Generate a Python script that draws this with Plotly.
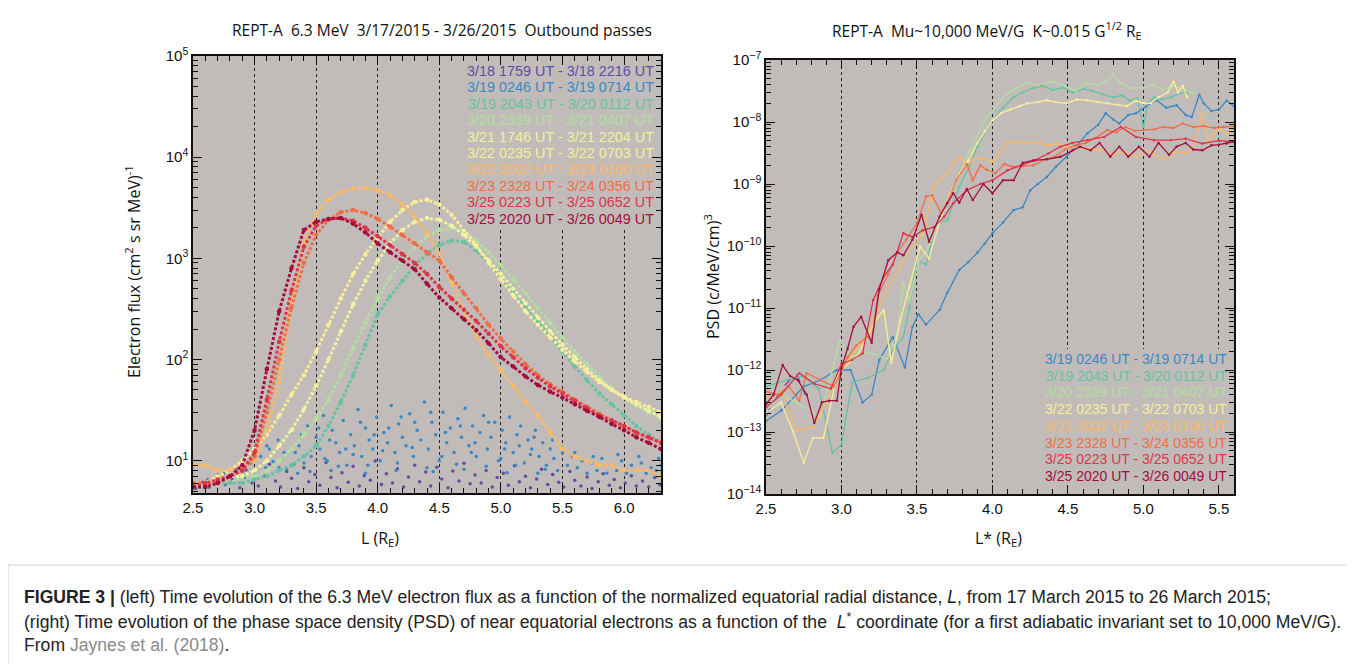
import plotly.graph_objects as go

# ---------------- data: left panel (6.3 MeV flux vs L) ----------------
L_grid = [2.5, 2.6, 2.7, 2.8, 2.9, 3.0, 3.1, 3.2, 3.3, 3.4, 3.5, 3.6, 3.7, 3.8, 3.9,
          4.0, 4.1, 4.2, 4.3, 4.4, 4.5, 4.6, 4.7, 4.8, 4.9, 5.0, 5.1, 5.2, 5.3, 5.4,
          5.5, 5.6, 5.7, 5.8, 5.9, 6.0, 6.1, 6.2, 6.3]

flux_0320_2339 = [5.5, 6, 6, 6, 7, 7, 8, 10, 13, 18, 26, 40, 70, 130, 230, 400, 650, 950, 1300,
                  1650, 1900, 2000, 1850, 1500, 1150, 850, 620, 450, 320, 230, 165, 120, 90, 68,
                  52, 42, 35, 30, 26]
flux_0319_2043 = [5.5, 5.5, 6, 6, 6, 6.5, 7, 8, 9, 11, 14, 22, 38, 70, 140, 280, 420, 600, 850,
                  1100, 1350, 1500, 1450, 1200, 900, 650, 470, 340, 240, 170, 120, 85, 62, 46,
                  36, 28, 22, 18, 15]
flux_0321_1746 = [6, 6, 6, 7, 7, 8, 10, 14, 20, 32, 55, 100, 190, 350, 600, 950, 1400, 1900, 2300,
                  2500, 2400, 2100, 1700, 1300, 950, 700, 500, 360, 260, 190, 140, 105, 80, 62,
                  50, 42, 36, 31, 27]
flux_0322_0235 = [6, 6, 7, 8, 10, 13, 18, 28, 45, 70, 120, 220, 400, 700, 1100, 1600, 2300, 3000,
                  3600, 3800, 3400, 2700, 1900, 1350, 900, 620, 430, 300, 220, 165, 125, 95, 75,
                  60, 50, 43, 38, 34, 30]
flux_0322_2032 = [9, 9, 8, 8, 9, 10, 20, 60, 380, 1400, 2800, 3800, 4500, 4900, 5000, 4700, 4200,
                  3400, 2600, 1800, 1100, 580, 300, 170, 110, 78, 55, 38, 28, 19, 13, 11, 10, 9,
                  9, 8, 8, 8, 7]
flux_0323_2328 = [6, 6, 6, 7, 8, 11, 30, 100, 330, 900, 1700, 2400, 2850, 3000, 2800, 2450, 2050,
                  1700, 1400, 1150, 950, 650, 450, 320, 220, 160, 120, 90, 70, 57, 48, 40, 34,
                  29, 25, 22, 19, 17, 15]
flux_0325_0223 = [5.5, 6, 6.5, 7, 8, 12, 40, 150, 480, 1300, 2100, 2450, 2500, 2350, 2000, 1650,
                  1350, 1100, 900, 700, 520, 400, 310, 240, 180, 135, 105, 82, 66, 54, 46, 39,
                  33, 28, 25, 22, 19, 17, 15]
flux_0325_2020 = [5.5, 5.5, 6, 7, 9, 20, 80, 300, 800, 1900, 2300, 2450, 2500, 2200, 1800, 1400,
                  1150, 950, 780, 560, 410, 320, 250, 195, 145, 105, 85, 68, 56, 48, 42, 36, 31,
                  27, 23, 20, 17, 15, 13]

# background-level passes (scattered points): (L, flux)
pts_0318_1759 = [(2.52, 5.3), (2.58, 6.1), (2.63, 5.5), (2.7, 7.2), (2.76, 5.8), (2.82, 6.5),
                 (2.88, 5.4), (2.93, 8.1), (2.98, 6.0), (3.03, 5.6), (3.08, 7.0), (3.12, 9.2),
                 (3.17, 6.3), (3.21, 5.5), (3.26, 7.8), (3.3, 6.7), (3.35, 5.3), (3.4, 8.5),
                 (3.44, 6.2), (3.49, 7.3), (3.53, 5.7), (3.58, 9.6), (3.62, 6.8), (3.67, 5.4),
                 (3.71, 7.6), (3.76, 6.1), (3.8, 8.8), (3.85, 5.6), (3.89, 7.1), (3.94, 6.4),
                 (3.98, 9.9), (4.03, 5.8), (4.07, 7.4), (4.12, 6.0), (4.16, 8.3), (4.21, 5.5),
                 (4.25, 6.9), (4.3, 9.0), (4.34, 6.2), (4.39, 7.7), (4.43, 5.6), (4.48, 8.6),
                 (4.52, 6.6), (4.57, 5.4), (4.61, 7.9), (4.66, 6.3), (4.7, 9.4), (4.75, 5.9),
                 (4.79, 7.2), (4.84, 6.0), (4.88, 8.0), (4.93, 5.5), (4.97, 6.8), (5.02, 7.5),
                 (5.06, 5.7), (5.11, 8.9), (5.15, 6.2), (5.2, 7.0), (5.24, 5.4), (5.29, 6.6),
                 (5.33, 8.2), (5.38, 5.8), (5.42, 7.3), (5.47, 6.1), (5.51, 5.5), (5.56, 7.8),
                 (5.6, 6.4), (5.65, 5.6), (5.7, 6.9), (5.74, 5.3), (5.79, 6.2), (5.83, 7.4),
                 (5.88, 5.7), (5.92, 6.5), (5.97, 5.4), (6.01, 6.0), (6.06, 7.1), (6.1, 5.6),
                 (6.15, 6.3), (6.2, 5.5), (6.25, 6.8), (6.29, 5.8)]
pts_0319_0246 = [(2.62, 6.5), (2.75, 7.5), (2.85, 8.2), (2.92, 6.8), (2.97, 9.5), (3.01, 7.2),
                 (3.05, 11), (3.09, 8.5), (3.12, 13), (3.15, 9.8), (3.19, 16), (3.22, 10.5),
                 (3.26, 8.2), (3.29, 19), (3.33, 12), (3.36, 14), (3.4, 9.5), (3.43, 22),
                 (3.46, 11), (3.5, 17), (3.53, 13), (3.56, 28), (3.59, 10), (3.63, 20),
                 (3.66, 15), (3.69, 12), (3.72, 25), (3.75, 9), (3.78, 18), (3.81, 14),
                 (3.84, 32), (3.87, 11), (3.9, 21), (3.93, 16), (3.96, 13), (3.99, 27),
                 (4.02, 10), (4.05, 19), (4.08, 15), (4.11, 35), (4.14, 12), (4.17, 23),
                 (4.2, 17), (4.23, 14), (4.26, 29), (4.29, 11), (4.32, 20), (4.35, 16),
                 (4.38, 38), (4.41, 13), (4.44, 24), (4.47, 18), (4.5, 10), (4.53, 30),
                 (4.56, 15), (4.59, 21), (4.62, 12), (4.65, 26), (4.68, 17), (4.71, 33),
                 (4.74, 14), (4.77, 22), (4.8, 11), (4.83, 19), (4.86, 28), (4.89, 13),
                 (4.92, 17), (4.95, 24), (4.98, 10), (5.01, 20), (5.04, 15), (5.07, 27),
                 (5.1, 12), (5.13, 18), (5.16, 22), (5.19, 9.5), (5.22, 16), (5.25, 13),
                 (5.28, 20), (5.31, 11), (5.34, 15), (5.37, 9), (5.4, 13), (5.43, 10.5),
                 (5.46, 8), (5.5, 12), (5.54, 9), (5.58, 11), (5.62, 8.5), (5.66, 10),
                 (5.7, 7.5), (5.74, 9.5), (5.78, 8), (5.82, 10.5), (5.86, 7.5), (5.9, 9),
                 (5.94, 8), (5.98, 10), (6.02, 7.5), (6.06, 9), (6.1, 8), (6.14, 9.5),
                 (6.18, 7.5), (6.22, 8.5), (6.26, 8), (6.3, 9), (3.2, 8.5), (3.32, 9.2),
                 (3.45, 7.8), (3.57, 10.5), (3.68, 8.8), (3.8, 11.5), (3.92, 9), (4.04, 12.5),
                 (4.16, 9.5), (4.28, 13.5), (4.4, 8.5), (4.52, 11), (4.64, 9.2), (4.76, 12),
                 (4.88, 8.8), (5.0, 10.5), (5.12, 9), (5.24, 11.5), (5.36, 8.2),
                 (3.1, 14), (3.24, 12), (3.38, 18), (3.52, 21), (3.61, 16), (3.74, 13),
                 (3.86, 24), (3.97, 18), (4.09, 21), (4.19, 27), (4.3, 24), (4.43, 30),
                 (4.55, 19), (4.67, 22), (4.79, 15), (4.9, 24), (5.03, 13), (5.15, 14),
                 (5.27, 17), (5.42, 16), (3.35, 7.5), (3.62, 8), (3.9, 7.5), (4.15, 8),
                 (4.45, 7.8), (4.7, 8.2), (5.05, 7.6), (5.3, 7.5), (5.6, 12), (5.75, 11),
                 (5.95, 11.5), (6.12, 11), (6.28, 10.5)]

# ---------------- data: right panel (PSD vs L*) ----------------
psd_0318_1759 = [(2.5, 1.8e-13), (2.55, 3e-13), (2.62, 5.5e-13), (2.7, 8.9e-13), (2.76, 4e-13)]
psd_0319_0246 = [(2.5, 1.5e-13), (2.6, 2.2e-13), (2.7, 4e-13), (2.75, 5.4e-13), (2.86, 6.9e-13),
                 (2.97, 1.0e-12), (3.06, 1.0e-12), (3.14, 3.0e-13), (3.2, 4.0e-13), (3.25, 1.45e-12),
                 (3.34, 3.4e-12), (3.42, 1.1e-12), (3.47, 5.0e-12), (3.51, 7.9e-12), (3.56, 5.4e-12),
                 (3.65, 9.3e-12), (3.7, 1.74e-11), (3.78, 4.1e-11), (3.84, 5.5e-11), (3.9, 7.8e-11),
                 (3.95, 1.1e-10), (4.0, 1.6e-10), (4.07, 2.4e-10), (4.14, 3.8e-10), (4.2, 4.2e-10),
                 (4.25, 7.9e-10), (4.3, 1.0e-9), (4.36, 1.3e-9), (4.42, 1.9e-9), (4.49, 2.75e-9),
                 (4.56, 4.2e-9), (4.63, 6.6e-9), (4.7, 9e-9), (4.75, 1.38e-8), (4.8, 1.1e-8),
                 (4.84, 9.5e-9), (4.9, 1.3e-8), (4.95, 1.38e-8), (5.02, 1.8e-8), (5.09, 2.24e-8),
                 (5.15, 1.7e-8), (5.22, 1.86e-8), (5.28, 1.3e-8), (5.32, 1.2e-8), (5.37, 2.75e-8),
                 (5.4, 2.0e-8), (5.45, 1.5e-8), (5.5, 1.6e-8), (5.55, 2.2e-8), (5.6, 1.8e-8)]
psd_0319_2043 = [(2.5, 5.4e-13), (2.64, 6.9e-13), (2.75, 8e-13), (2.85, 5e-13), (2.94, 4.6e-14),
                 (3.0, 6.3e-14), (3.07, 6.3e-13), (3.17, 7.4e-13), (3.28, 1.0e-12), (3.34, 2.1e-12),
                 (3.41, 3.4e-12), (3.45, 1.0e-11), (3.5, 5.9e-11), (3.56, 5.0e-11), (3.63, 2.3e-10),
                 (3.7, 2.6e-10), (3.78, 8.9e-10), (3.85, 2.0e-9), (3.9, 4.0e-9), (4.0, 1.07e-8),
                 (4.07, 1.7e-8), (4.14, 2.5e-8), (4.2, 3.0e-8), (4.27, 3.5e-8), (4.33, 3.8e-8),
                 (4.4, 3.3e-8), (4.47, 3.6e-8), (4.53, 2.95e-8), (4.6, 3.4e-8), (4.66, 3.2e-8),
                 (4.73, 2.8e-8), (4.8, 2.5e-8), (4.86, 2.7e-8), (4.91, 2.2e-8), (4.96, 2.4e-8),
                 (5.0, 8.3e-9), (5.03, 2.0e-8), (5.07, 2.5e-8), (5.12, 2.3e-8), (5.18, 2.5e-8),
                 (5.24, 2.9e-8), (5.29, 3.0e-8)]
psd_0320_2339 = [(2.5, 2.5e-13), (2.6, 4e-13), (2.7, 3e-13), (2.8, 2.2e-13), (2.86, 1.7e-13),
                 (2.93, 8e-13), (2.99, 3.0e-12), (3.06, 1.6e-12), (3.14, 1.9e-12), (3.22, 1.8e-12),
                 (3.3, 1.5e-12), (3.37, 4e-12), (3.41, 2.5e-11), (3.45, 1.26e-11), (3.51, 5.9e-11),
                 (3.56, 7.9e-11), (3.65, 2.6e-10), (3.74, 8.9e-10), (3.85, 3.5e-9), (3.96, 1.2e-8),
                 (4.1, 2.95e-8), (4.23, 4.3e-8), (4.3, 4.0e-8), (4.4, 4.5e-8), (4.48, 3.8e-8),
                 (4.55, 3.2e-8), (4.62, 4.2e-8), (4.7, 4.0e-8), (4.76, 4.6e-8), (4.8, 5.8e-8),
                 (4.85, 4.2e-8), (4.92, 3.5e-8), (5.0, 3.6e-8), (5.06, 4.0e-8), (5.12, 3.3e-8),
                 (5.2, 3.8e-8), (5.27, 3.4e-8), (5.33, 2.9e-8)]
psd_0322_0235 = [(2.5, 2.0e-13), (2.6, 3e-13), (2.68, 1e-13), (2.75, 3.2e-14), (2.81, 8e-14),
                 (2.88, 8e-14), (2.97, 8e-13), (3.03, 1.2e-12), (3.1, 1.6e-12), (3.17, 3.4e-12),
                 (3.22, 6e-12), (3.28, 9.3e-12), (3.33, 1.3e-12), (3.39, 6.3e-12), (3.45, 2.2e-11),
                 (3.52, 9.8e-11), (3.58, 6.3e-11), (3.65, 2.5e-10), (3.72, 7.1e-10), (3.78, 1.4e-9),
                 (3.84, 2.4e-9), (3.9, 4.6e-9), (3.95, 7e-9), (4.0, 1.07e-8), (4.06, 1.4e-8),
                 (4.12, 1.6e-8), (4.18, 1.8e-8), (4.23, 2.0e-8), (4.3, 2.1e-8), (4.36, 2.24e-8),
                 (4.42, 2.1e-8), (4.49, 2.0e-8), (4.56, 2.3e-8), (4.63, 2.24e-8), (4.7, 2.1e-8),
                 (4.76, 2.0e-8), (4.83, 1.9e-8), (4.89, 1.8e-8), (4.95, 2.2e-8), (5.0, 2.0e-8),
                 (5.05, 2.0e-8), (5.1, 2.5e-8), (5.16, 3.0e-8), (5.2, 4.5e-8), (5.23, 3.0e-8),
                 (5.26, 3.8e-8), (5.29, 2.5e-8)]
psd_0322_2032 = [(2.5, 3.5e-13), (2.6, 4.5e-13), (2.7, 1.07e-13), (2.81, 1.2e-13), (2.9, 3e-13),
                 (2.99, 8.9e-13), (3.05, 1.5e-12), (3.1, 2.2e-12), (3.17, 3.5e-12), (3.24, 9.3e-12),
                 (3.31, 2.2e-11), (3.39, 4.6e-11), (3.47, 9.8e-11), (3.54, 1.6e-10), (3.61, 8.9e-10),
                 (3.66, 1.2e-9), (3.7, 1.5e-9), (3.75, 2.3e-9), (3.78, 2.75e-9), (3.83, 2.0e-9),
                 (3.87, 2.45e-9), (3.94, 2.6e-9), (4.0, 2.3e-9), (4.05, 3.2e-9), (4.1, 4.8e-9),
                 (4.15, 4.5e-9), (4.2, 4.8e-9), (4.26, 4.5e-9), (4.31, 4.6e-9), (4.37, 4.2e-9),
                 (4.43, 4.5e-9), (4.5, 4.0e-9), (4.58, 3.8e-9), (4.65, 3.6e-9), (4.73, 3.5e-9),
                 (4.8, 3.0e-9), (4.88, 3.3e-9), (4.95, 2.75e-9), (5.02, 3.5e-9), (5.08, 3.0e-9),
                 (5.13, 2.45e-9), (5.2, 3.3e-9), (5.28, 3.2e-9), (5.33, 3.5e-9), (5.39, 1.38e-8),
                 (5.43, 5e-9), (5.46, 6.3e-9), (5.5, 7.9e-9), (5.55, 6.5e-9), (5.6, 7.9e-9)]
psd_0323_2328 = [(2.5, 4.5e-13), (2.58, 4e-13), (2.65, 5.5e-13), (2.72, 3.2e-13), (2.77, 8.9e-13),
                 (2.86, 6.9e-13), (2.95, 5.4e-13), (3.04, 1.6e-12), (3.1, 2.5e-12), (3.17, 3.4e-12),
                 (3.2, 3.0e-12), (3.24, 1.6e-11), (3.31, 3.5e-11), (3.37, 7.8e-11), (3.43, 1.26e-10),
                 (3.5, 2.3e-10), (3.56, 6.3e-10), (3.6, 6.6e-10), (3.66, 3.4e-10), (3.7, 5.0e-10),
                 (3.76, 1.15e-9), (3.83, 2.1e-9), (3.87, 1.15e-9), (3.92, 2.0e-9), (3.96, 1.7e-9),
                 (4.02, 1.5e-9), (4.08, 2.1e-9), (4.13, 1.9e-9), (4.2, 1.95e-9), (4.27, 2.0e-9),
                 (4.35, 2.5e-9), (4.41, 2.75e-9), (4.48, 3.6e-9), (4.55, 4.2e-9), (4.62, 4.6e-9),
                 (4.68, 5.5e-9), (4.76, 7.4e-9), (4.82, 6.8e-9), (4.88, 8.3e-9), (4.94, 7.2e-9),
                 (5.0, 7.4e-9), (5.07, 7.6e-9), (5.13, 8.3e-9), (5.2, 8.0e-9), (5.26, 9.5e-9),
                 (5.33, 8.3e-9), (5.4, 8.6e-9), (5.47, 8.0e-9), (5.53, 8.3e-9), (5.6, 8.5e-9)]
psd_0325_0223 = [(2.5, 2.5e-13), (2.6, 4e-13), (2.72, 8.9e-13), (2.82, 6e-13), (2.93, 5e-13),
                 (3.0, 1.26e-12), (3.07, 1.45e-12), (3.14, 1.86e-12), (3.21, 1.35e-11), (3.28, 3.2e-11),
                 (3.34, 5e-11), (3.41, 1.6e-10), (3.47, 1.4e-10), (3.54, 1.8e-10), (3.61, 2.0e-10),
                 (3.68, 2.95e-10), (3.74, 4.9e-10), (3.83, 7.9e-10), (3.92, 1.0e-9), (4.0, 1.15e-9),
                 (4.1, 1.66e-9), (4.19, 2.0e-9), (4.28, 2.4e-9), (4.37, 3.1e-9), (4.45, 4.0e-9),
                 (4.53, 4.6e-9), (4.63, 5.1e-9), (4.74, 5.75e-9), (4.85, 8.3e-9), (4.95, 5.75e-9),
                 (5.07, 5.1e-9), (5.18, 5.1e-9), (5.28, 5.4e-9), (5.39, 4.5e-9), (5.5, 5.0e-9),
                 (5.6, 4.8e-9)]
psd_0325_2020 = [(2.5, 2.8e-13), (2.55, 4e-13), (2.61, 1.2e-12), (2.66, 8e-13), (2.71, 6.9e-13),
                 (2.77, 4e-13), (2.82, 1.4e-13), (2.87, 3e-13), (2.92, 3.2e-13), (2.97, 3.2e-13),
                 (3.0, 1.07e-12), (3.04, 2.2e-12), (3.08, 5e-12), (3.13, 7.2e-12), (3.2, 2.75e-12),
                 (3.25, 2.0e-11), (3.31, 5.9e-11), (3.37, 7.9e-11), (3.41, 7.1e-11), (3.47, 1.26e-10),
                 (3.53, 3.2e-10), (3.58, 1.17e-10), (3.65, 3.0e-10), (3.7, 4.9e-10), (3.74, 7.1e-10),
                 (3.78, 5.0e-10), (3.83, 8.3e-10), (3.87, 5.5e-10), (3.94, 1.0e-9), (4.0, 7.1e-10),
                 (4.07, 1.15e-9), (4.14, 1.15e-9), (4.2, 2.2e-9), (4.27, 2.4e-9), (4.36, 2.5e-9),
                 (4.45, 2.75e-9), (4.53, 3.5e-9), (4.58, 4.0e-9), (4.65, 3.5e-9), (4.71, 4.6e-9),
                 (4.78, 2.75e-9), (4.84, 4.0e-9), (4.9, 2.75e-9), (4.97, 4.0e-9), (5.04, 2.75e-9),
                 (5.1, 4.6e-9), (5.17, 2.95e-9), (5.22, 4.0e-9), (5.28, 4.6e-9), (5.33, 3.6e-9),
                 (5.39, 3.5e-9), (5.45, 4.2e-9), (5.5, 4.3e-9), (5.55, 4.5e-9), (5.6, 4.8e-9)]

# ---------------- labels ----------------
pass_labels = ["3/18 1759 UT - 3/18 2216 UT", "3/19 0246 UT - 3/19 0714 UT",
               "3/19 2043 UT - 3/20 0112 UT", "3/20 2339 UT - 3/21 0407 UT",
               "3/21 1746 UT - 3/21 2204 UT", "3/22 0235 UT - 3/22 0703 UT",
               "3/22 2032 UT - 3/23 0100 UT", "3/23 2328 UT - 3/24 0356 UT",
               "3/25 0223 UT - 3/25 0652 UT", "3/25 2020 UT - 3/26 0049 UT"]
pass_colors = ["#5e4fa2", "#3a88c2", "#66c2a5", "#b3de9f", "#eef3a0", "#fbec98",
               "#fdb863", "#f26d43", "#de3448", "#a50d3e"]
psd_labels = pass_labels[1:4] + pass_labels[5:]
psd_colors = pass_colors[1:4] + pass_colors[5:]

x_ticks_left = [2.5, 3.0, 3.5, 4.0, 4.5, 5.0, 5.5, 6.0]
x_ticks_right = [2.5, 3.0, 3.5, 4.0, 4.5, 5.0, 5.5]
y_ticks_left = [1e1, 1e2, 1e3, 1e4, 1e5]
y_ticklabels_left = ["10<sup>1</sup>", "10<sup>2</sup>", "10<sup>3</sup>", "10<sup>4</sup>", "10<sup>5</sup>"]
y_ticks_right = [1e-14, 1e-13, 1e-12, 1e-11, 1e-10, 1e-9, 1e-8, 1e-7]
y_ticklabels_right = ["10<sup>\u221214</sup>", "10<sup>\u221213</sup>", "10<sup>\u221212</sup>",
                      "10<sup>\u221211</sup>", "10<sup>\u221210</sup>", "10<sup>\u22129</sup>",
                      "10<sup>\u22128</sup>", "10<sup>\u22127</sup>"]

# ---------------- figure ----------------
# The page body keeps its default 8px margin, so the figure is 8px smaller than the
# window and every reference pixel position is shifted by that offset.
OFF = 8
W, H = 1354 - OFF, 664 - OFF
PLOT_BG = "#c1bcba"
TICK_FONT = dict(family="Liberation Sans, Arial, sans-serif", size=15, color="#111")
TITLE_FONT = "Open Sans, Noto Sans, sans-serif"
LEG_FONT = "Liberation Sans, Arial, sans-serif"

X_RANGE_L, Y_RANGE_L = [2.5, 6.3], [0.68, 5]
X_RANGE_R, Y_RANGE_R = [2.5, 5.6], [-14, -7]


def px_x(v):
    return (v - OFF) / W


def px_y(v):
    return 1 - (v - OFF) / H


fig = go.Figure()

flux_series = [flux_0320_2339, flux_0319_2043, flux_0321_1746, flux_0322_0235,
               flux_0322_2032, flux_0323_2328, flux_0325_0223, flux_0325_2020]
flux_color_idx = [3, 2, 4, 5, 6, 7, 8, 9]

for pts, ci in [(pts_0318_1759, 0), (pts_0319_0246, 1)]:
    fig.add_trace(go.Scatter(x=[p[0] for p in pts], y=[p[1] for p in pts], mode="markers",
                             marker=dict(size=3.5, color=pass_colors[ci]),
                             xaxis="x", yaxis="y", showlegend=False, hoverinfo="skip"))
for ys, ci in zip(flux_series, flux_color_idx):
    fig.add_trace(go.Scatter(x=L_grid, y=ys, mode="lines+markers",
                             line=dict(color=pass_colors[ci], width=3, dash="3px,2px"),
                             marker=dict(size=4.5, color=pass_colors[ci]),
                             xaxis="x", yaxis="y", showlegend=False, hoverinfo="skip"))

fig.add_trace(go.Scatter(x=[p[0] for p in psd_0318_1759], y=[p[1] for p in psd_0318_1759],
                         mode="lines", line=dict(color=pass_colors[0], width=1.3, dash="dash"),
                         xaxis="x2", yaxis="y2", showlegend=False, hoverinfo="skip"))
psd_series = [psd_0319_0246, psd_0319_2043, psd_0320_2339, psd_0322_0235,
              psd_0322_2032, psd_0323_2328, psd_0325_0223, psd_0325_2020]
for pts, col in zip(psd_series, psd_colors):
    fig.add_trace(go.Scatter(x=[p[0] for p in pts], y=[p[1] for p in pts], mode="lines+markers",
                             line=dict(color=col, width=1.3), marker=dict(size=2.5, color=col),
                             xaxis="x2", yaxis="y2", showlegend=False, hoverinfo="skip"))

# plot boxes (reference pixel positions)
L_left, R_left, T_left, B_left = 193, 661, 56, 493
L_right, R_right, T_right, B_right = 766, 1234, 60, 494
TICKLEN = 9


def minor_log(e0, e1):
    return [m * 10.0 ** e for e in range(e0, e1) for m in range(2, 10)]


common_x = dict(showline=True, linecolor="#111", linewidth=1.5, mirror="allticks",
                ticks="inside", ticklen=TICKLEN, tickwidth=1.2, tickcolor="#111",
                showgrid=True, gridcolor="#222", griddash="dot", gridwidth=1,
                zeroline=False, tickfont=TICK_FONT, tickformat=".1f", tickmode="array",
                automargin=False,
                minor=dict(ticks="inside", ticklen=5, tickcolor="#111", dtick=0.1, showgrid=False))
common_y = dict(type="log", showline=True, linecolor="#111", linewidth=1.5, mirror="allticks",
                ticks="inside", ticklen=TICKLEN, tickwidth=1.2, tickcolor="#111", showgrid=False,
                zeroline=False, tickfont=TICK_FONT, tickmode="array", automargin=False)

fig.update_layout(
    width=W, height=H, autosize=False,
    margin=dict(l=0, r=0, t=0, b=0, pad=0, autoexpand=False),
    paper_bgcolor="white", plot_bgcolor=PLOT_BG,
    xaxis=dict(common_x, domain=[px_x(L_left), px_x(R_left)], range=X_RANGE_L,
               tickvals=x_ticks_left, anchor="y"),
    yaxis=dict(common_y, domain=[px_y(B_left), px_y(T_left)], range=Y_RANGE_L,
               tickvals=y_ticks_left, ticktext=y_ticklabels_left, anchor="x",
               minor=dict(ticks="inside", ticklen=5, tickcolor="#111", tickmode="array",
                          tickvals=minor_log(0, 5))),
    xaxis2=dict(common_x, domain=[px_x(L_right), px_x(R_right)], range=X_RANGE_R,
                tickvals=x_ticks_right, anchor="y2"),
    yaxis2=dict(common_y, domain=[px_y(B_right), px_y(T_right)], range=Y_RANGE_R,
                tickvals=y_ticks_right, ticktext=y_ticklabels_right, anchor="x2",
                minor=dict(ticks="inside", ticklen=5, tickcolor="#111", tickmode="array",
                           tickvals=minor_log(-14, -7))),
)

# legend boxes (plot background colour) hide the dotted grid lines behind the labels,
# leaving the inside tick marks along the frame visible
fig.add_shape(type="rect", xref="paper", yref="paper", layer="above",
              x0=px_x(462), x1=px_x(R_left - TICKLEN - 1),
              y0=px_y(229), y1=px_y(T_left + TICKLEN + 1),
              fillcolor=PLOT_BG, line=dict(width=0))
fig.add_shape(type="rect", xref="paper", yref="paper", layer="above",
              x0=px_x(1046), x1=px_x(R_right - TICKLEN - 1),
              y0=px_y(B_right - TICKLEN - 1), y1=px_y(349),
              fillcolor=PLOT_BG, line=dict(width=0))

ann = []
for i, (lab, col) in enumerate(zip(pass_labels, pass_colors)):
    ann.append(dict(text=lab, x=px_x(656), y=px_y(71 + 16.4 * i), xref="paper", yref="paper",
                    xanchor="right", yanchor="middle", showarrow=False,
                    font=dict(family=LEG_FONT, size=14.4, color=col)))
for i, (lab, col) in enumerate(zip(psd_labels, psd_colors)):
    ann.append(dict(text=lab, x=px_x(1229), y=px_y(359 + 16.7 * i), xref="paper", yref="paper",
                    xanchor="right", yanchor="middle", showarrow=False,
                    font=dict(family=LEG_FONT, size=14, color=col)))

ann.append(dict(text="REPT-A\u00a0\u00a06.3 MeV\u00a0\u00a03/17/2015 - 3/26/2015\u00a0\u00a0Outbound passes",
                x=px_x(442), y=px_y(30), xref="paper", yref="paper", showarrow=False,
                xanchor="center", yanchor="middle", font=dict(family=TITLE_FONT, size=15.5, color="#111")))
ann.append(dict(text="REPT-A\u00a0\u00a0Mu~10,000 MeV/G\u00a0\u00a0K~0.015 G<sup>1/2</sup> R<sub>E</sub>",
                x=px_x(987), y=px_y(30), xref="paper", yref="paper", showarrow=False,
                xanchor="center", yanchor="middle", font=dict(family=TITLE_FONT, size=15.5, color="#111")))
ann.append(dict(text="Electron flux (cm<sup>2</sup> s sr MeV)<sup>-1</sup>", textangle=-90,
                x=px_x(133), y=px_y(272), xref="paper", yref="paper", showarrow=False,
                xanchor="center", yanchor="middle", font=dict(family=TITLE_FONT, size=16, color="#111")))
ann.append(dict(text="PSD (c/MeV/cm)<sup>3</sup>", textangle=-90,
                x=px_x(712), y=px_y(277), xref="paper", yref="paper", showarrow=False,
                xanchor="center", yanchor="middle", font=dict(family=TITLE_FONT, size=16, color="#111")))
ann.append(dict(text="L (R<sub>E</sub>)", x=px_x(380), y=px_y(538), xref="paper", yref="paper",
                showarrow=False, xanchor="center", yanchor="middle",
                font=dict(family=TITLE_FONT, size=16, color="#111")))
ann.append(dict(text="L* (R<sub>E</sub>)", x=px_x(998), y=px_y(538), xref="paper", yref="paper",
                showarrow=False, xanchor="center", yanchor="middle",
                font=dict(family=TITLE_FONT, size=16, color="#111")))

CAP_FONT = dict(family="Liberation Sans, Arial, sans-serif", size=17.6, color="#222")
cap_lines = [
    "<b>FIGURE 3 |</b> (left) Time evolution of the 6.3 MeV electron flux as a function of the normalized "
    "equatorial radial distance, <i>L</i>, from 17 March 2015 to 26 March 2015;",
    "(right) Time evolution of the phase space density (PSD) of near equatorial electrons as a function "
    "of the \u00a0<i>L</i><sup>*</sup> coordinate (for a first adiabatic invariant set to 10,000 MeV/G).",
    "From <span style='color:#8a8a8a'>Jaynes et al. (2018)</span>.",
]
for i, t in enumerate(cap_lines):
    ann.append(dict(text=t, x=px_x(22), y=px_y(597 + 24 * i), xref="paper", yref="paper",
                    showarrow=False, xanchor="left", yanchor="middle", font=CAP_FONT))

fig.update_layout(annotations=ann)
fig.add_shape(type="rect", xref="paper", yref="paper", x0=px_x(8), x1=px_x(1347),
              y0=px_y(700), y1=px_y(565), line=dict(color="#cfcfcf", width=1))

fig.write_html("out.html")
